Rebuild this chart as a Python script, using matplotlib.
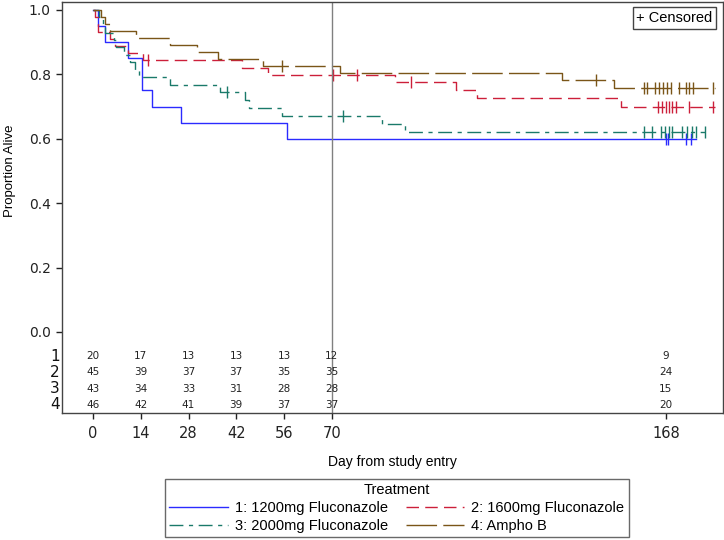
import matplotlib
matplotlib.use("Agg")
import matplotlib.pyplot as plt
from matplotlib.lines import Line2D

# ---------------- data ----------------
blue_t = [0, 1.6, 3.4, 10.3, 14.3, 17.4, 25.7, 56.8, 176.7]
blue_s = [1.0, 0.95, 0.90, 0.85, 0.75, 0.70, 0.65, 0.60, 0.60]
blue_c = [168.0, 168.6, 173.8, 175.5]

red_t = [0, 0.6, 1.4, 5.0, 6.5, 10.4, 14.7, 43.6, 51.4, 88.6, 106.5, 112.5, 154.7, 182.3]
red_s = [1.0, 0.978, 0.933, 0.911, 0.889, 0.867, 0.844, 0.821, 0.798, 0.776, 0.752, 0.727, 0.70, 0.70]
red_c = [16.2, 70.4, 77.4, 93.3, 165.8, 167.0, 168.0, 169.0, 169.9, 170.9, 174.8, 181.9]

teal_t = [0, 1.8, 2.8, 3.5, 6.2, 6.6, 9.0, 10.8, 12.3, 13.4, 22.6, 37.2, 44.6, 45.6, 55.5, 84.6, 91.5, 179.5]
teal_s = [1.0, 0.977, 0.953, 0.930, 0.907, 0.884, 0.860, 0.837, 0.814, 0.791, 0.767, 0.744, 0.720, 0.696, 0.672, 0.647, 0.622, 0.622]
teal_c = [39.4, 73.4, 161.7, 163.8, 166.6, 167.6, 169.0, 169.7, 172.6, 174.3, 175.6, 176.7, 179.5]

brown_t = [0, 2.4, 3.4, 4.9, 12.7, 22.6, 30.4, 36.7, 49.9, 72.4, 137.4, 152.8, 182.3]
brown_s = [1.0, 0.978, 0.957, 0.935, 0.913, 0.891, 0.870, 0.848, 0.826, 0.804, 0.782, 0.757, 0.757]
brown_c = [55.5, 147.6, 161.7, 162.6, 164.8, 166.1, 167.3, 168.3, 169.4, 171.7, 173.8, 174.8, 175.9, 181.9]

risk_times = [0, 14, 28, 42, 56, 70, 168]
risk1 = [20, 17, 13, 13, 13, 12, 9]
risk2 = [45, 39, 37, 37, 35, 35, 24]
risk3 = [43, 34, 33, 31, 28, 28, 15]
risk4 = [46, 42, 41, 39, 37, 37, 20]

labels = ["1: 1200mg Fluconazole", "2: 1600mg Fluconazole",
          "3: 2000mg Fluconazole", "4: Ampho B"]
xticks = [0, 14, 28, 42, 56, 70, 168]
yticks = [0.0, 0.2, 0.4, 0.6, 0.8, 1.0]

# ---------------- style ----------------
plt.rcParams['font.family'] = ['DejaVu Sans']
colors = ['#2b2bff', '#cc1f3a', '#1a7a6a', '#7a5518']
styles = ['-', (0, (9, 4.5)), (0, (10, 4, 3, 4)), (0, (22, 4.5))]

fig = plt.figure(figsize=(7.24, 5.4), dpi=100)
ax = fig.add_axes([62/724, 1-413/540, (723-62)/724, (413-2)/540])

series = [(blue_t, blue_s, blue_c), (red_t, red_s, red_c),
          (teal_t, teal_s, teal_c), (brown_t, brown_s, brown_c)]
handles = []
for (t, s, c), col, ls, lab in zip(series, colors, styles, labels):
    ax.step(t, s, where='post', color=col, lw=1.0, linestyle=ls)
    # censor marks
    cy = []
    for ct in c:
        v = s[0]
        for tt, ss in zip(t, s):
            if tt <= ct:
                v = ss
        cy.append(v)
    ax.plot(c, cy, linestyle='none', marker='|', markersize=8, mew=1.0, color=col)
    handles.append(Line2D([0], [0], color=col, lw=1.0, linestyle=ls))

ax.axvline(70, color='#808080', lw=1.0)

ax.set_xlim(-9.1, 184.75)
ax.set_ylim(-0.2516, 1.0248)
ax.set_xticks(xticks)
ax.set_yticks(yticks)
ax.set_yticklabels([f"{v:.1f}" for v in yticks])
ax.tick_params(axis='both', direction='out', length=4.5, width=1, labelsize=10, colors='#222222')
ax.tick_params(axis='x', pad=5, labelsize=10.5)
for sp in ax.spines.values():
    sp.set_color('#444444')
    sp.set_linewidth(1.0)

ax.set_ylabel("Proportion Alive", fontsize=9.5, family='Liberation Sans')
ax.yaxis.set_label_coords(-0.069, 0.589)
ax.set_xlabel("Day from study entry", fontsize=10, family='Liberation Sans', labelpad=10)

# at-risk table
rows = [risk1, risk2, risk3, risk4]
for i, r in enumerate(rows):
    yv = -0.075 - 0.0505 * i
    ax.text(-9.8, yv, str(i + 1), ha='right', va='center', fontsize=11,
            transform=ax.transData, clip_on=False, color='#111111')
    for tt, n in zip(risk_times, r):
        ax.text(tt, yv, str(n), ha='center', va='center', fontsize=7.5, color='#222222')

# censored box
ax.text(0.984, 0.978, "+ Censored", transform=ax.transAxes, ha='right', va='top',
        fontsize=10.5, family='Liberation Sans',
        bbox=dict(boxstyle='square,pad=0.25', fc='white', ec='#444444', lw=1.0))

order = [0, 2, 1, 3]
leg = fig.legend([handles[i] for i in order], [labels[i] for i in order], ncol=2,
                 title="Treatment", loc='lower center', bbox_to_anchor=(0.548, -0.008),
                 frameon=True, fancybox=False, edgecolor='#444444',
                 title_fontsize=10.5, handlelength=4.0, borderpad=0.3,
                 labelspacing=0.25, columnspacing=1.2, handletextpad=0.5,
                 prop={'family': 'Liberation Sans', 'size': 10.5})
leg.get_title().set_family('Liberation Sans')
leg.get_frame().set_linewidth(1.0)

fig.savefig("out.png", dpi=100)
